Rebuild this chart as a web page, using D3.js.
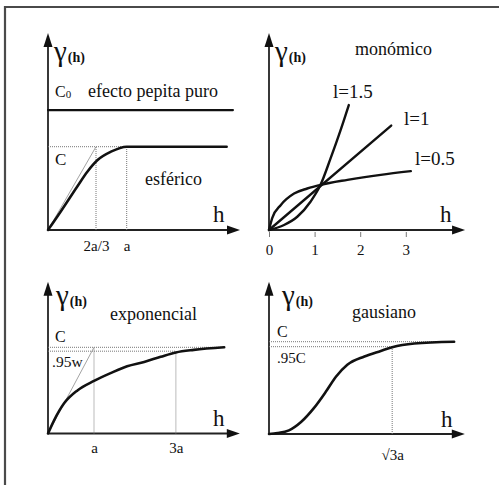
<!DOCTYPE html>
<html><head><meta charset="utf-8">
<script src="https://cdn.jsdelivr.net/npm/d3@7"></script>
<style>
html,body{margin:0;padding:0;background:#fff;}
svg{display:block;}
svg text{font-family:"Liberation Serif","Times New Roman",Times,"DejaVu Serif",serif;fill:#111;}
</style></head>
<body>
<svg id="c" width="499" height="485"></svg>
<script>
// ---- data (in model units: h in units of a, gamma in units of C) ----
const sphH = [0, 0.16, 0.37, 0.50, 0.63, 0.80, 1.0, 2.27];
const sphG = [0, 0.22, 0.52, 0.70, 0.84, 0.94, 1.0, 1.0];
const nugH = [0, 2.35];
const nugG = [1.44, 1.44];
const sphTicks = [0.61, 1];
const sphTickLabels = ["2a/3", "a"];

const m15H = [0, 0.33, 0.62, 0.91, 1.13, 1.35, 1.57, 1.75];
const m15G = [0, 0.11, 0.29, 0.62, 0.99, 1.57, 2.19, 2.74];
const m10H = [0, 2.68];
const m10G = [0, 2.29];
const m05H = [0, 0.07, 0.26, 0.55, 0.84, 1.13, 1.72, 2.45, 3.11];
const m05G = [0, 0.26, 0.55, 0.80, 0.91, 0.99, 1.10, 1.21, 1.29];
const monTicks = [0, 1, 2, 3];
const monLabels = ["l=1.5", "l=1", "l=0.5"];

const expH = [0, 0.13, 0.35, 0.64, 1.0, 1.36, 1.72, 2.09, 2.45, 2.78, 3.17, 3.83];
const expG = [0, 0.15, 0.35, 0.50, 0.61, 0.70, 0.78, 0.83, 0.89, 0.94, 0.97, 1.0];
const expTicks = [1, 2.78];
const expTickLabels = ["a", "3a"];

const gauH = [0, 0.12, 0.28, 0.45, 0.63, 0.80, 0.94, 1.10, 1.34, 1.57, 1.73, 2.04, 2.60];
const gauG = [0, 0.01, 0.04, 0.13, 0.28, 0.46, 0.62, 0.75, 0.84, 0.90, 0.94, 0.98, 1.0];
const gauTicks = [1.73];
const gauTickLabels = ["\u221A3a"];

const sill = 1, p95exp = 0.955, p95gau = 0.946;

// ---- drawing ----
const FONT = '"Liberation Serif","Times New Roman",Times,"DejaVu Serif",serif';
const svg = d3.select("#c");
svg.append("path").attr("d","M5,485V7H499").attr("fill","none").attr("stroke","#4a4a4a").attr("stroke-width",2.2);

const zip = (a,b)=>a.map((v,i)=>[v,b[i]]);

function panel(o){
  const x = d3.scaleLinear().domain([0,1]).range([o.x0, o.x0+o.ux]);
  const y = d3.scaleLinear().domain([0,1]).range([o.y0, o.y0-o.uy]);
  const g = svg.append("g");
  const line = d3.line().x(d=>x(d[0])).y(d=>y(d[1])).curve(d3.curveMonotoneX);
  const xt = x(o.xmax), yt = y(o.ymax);
  g.append("line").attr("x1",o.x0).attr("y1",o.y0).attr("x2",xt-10).attr("y2",o.y0)
    .attr("stroke","#222").attr("stroke-width",1.8);
  g.append("line").attr("x1",o.x0).attr("y1",o.y0).attr("x2",o.x0).attr("y2",yt+10)
    .attr("stroke","#222").attr("stroke-width",1.8);
  g.append("path").attr("d",`M${xt},${o.y0}L${xt-13},${o.y0-4.5}L${xt-13},${o.y0+4.5}Z`).attr("fill","#111");
  g.append("path").attr("d",`M${o.x0},${yt}L${o.x0-4.5},${yt+14}L${o.x0+4.5},${yt+14}Z`).attr("fill","#111");
  return {g,x,y,line};
}
function dotted(p, pts){
  p.g.append("path").attr("d", d3.line().x(d=>p.x(d[0])).y(d=>p.y(d[1]))(pts))
    .attr("fill","none").attr("stroke","#777").attr("stroke-width",1).attr("stroke-dasharray","1,1");
}
function thin(p, pts){
  p.g.append("path").attr("d", d3.line().x(d=>p.x(d[0])).y(d=>p.y(d[1]))(pts))
    .attr("fill","none").attr("stroke","#999").attr("stroke-width",0.9);
}
function curve(p, data, w){
  p.g.append("path").attr("d", p.line(data)).attr("fill","none").attr("stroke","#111")
    .attr("stroke-width",w||2.6).attr("stroke-linecap","round").attr("stroke-linejoin","round");
}
function label(p, txt, x, y, size){
  return p.g.append("text").attr("x",x).attr("y",y).attr("font-size",size)
    .style("font-family",FONT).text(txt);
}
function gamma(p, x, y){
  const t = p.g.append("text").attr("x",x).attr("y",y).style("font-family",FONT);
  t.append("tspan").attr("font-size",29).text("\u03B3");
  t.append("tspan").attr("font-size",14).attr("font-weight","bold").attr("dx",1).attr("dy",1).text("(h)");
}
function ticks(p, vals, labs, size, pad, yAxis){
  const ax = d3.axisBottom(p.x).tickValues(vals).tickSize(size).tickPadding(pad)
    .tickFormat((d,i)=>labs[i]);
  const a = p.g.append("g").attr("transform",`translate(0,${yAxis})`).call(ax);
  a.attr("font-family",null).attr("font-size",null);
  a.select(".domain").remove();
  a.selectAll("line").attr("stroke","#555").attr("stroke-width",0.8).attr("transform","translate(0,2)");
  a.selectAll("text").style("font-family",FONT).style("font-size","15px").attr("fill","#111");
}

// Panel 1: nugget + spherical
const p1 = panel({x0:48, y0:230, ux:78.7, uy:83.3, xmax:2.44, ymax:2.365});
dotted(p1, [[0,sill],[1,sill]]);
dotted(p1, [[sphTicks[0],0],[sphTicks[0],sill]]);
dotted(p1, [[sphTicks[1],0],[sphTicks[1],sill]]);
thin(p1, [[0,0],[sphTicks[0],sill]]);
curve(p1, zip(nugH,nugG), 2.2);
curve(p1, zip(sphH,sphG));
gamma(p1, 54, 61);
const c0 = p1.g.append("text").attr("x",55).attr("y",97).style("font-family",FONT);
c0.append("tspan").attr("font-size",16).text("C");
c0.append("tspan").attr("font-size",11).attr("dy",1).text("0");
label(p1, "efecto pepita puro", 88, 97, 18);
label(p1, "C", 55, 165, 17);
label(p1, "esférico", 145, 185, 18);
label(p1, "h", 213, 222, 23);
ticks(p1, sphTicks, sphTickLabels, 0, 10, 230);

// Panel 2: monomial
const p2 = panel({x0:269, y0:230, ux:45.6, uy:45.6, xmax:4.3, ymax:4.32});
curve(p2, zip(m15H,m15G), 2.4);
curve(p2, zip(m10H,m10G), 2.4);
curve(p2, zip(m05H,m05G), 2.4);
gamma(p2, 275, 61);
label(p2, "monómico", 355, 55, 18);
label(p2, monLabels[0], 333, 98, 19);
label(p2, monLabels[1], 404, 125, 19);
label(p2, monLabels[2], 415, 165, 19);
label(p2, "h", 440, 222, 23);
ticks(p2, monTicks, monTicks.map(String), 5, 9, 230);

// Panel 3: exponential
const p3 = panel({x0:48, y0:433.5, ux:46, uy:86.2, xmax:4.17, ymax:1.76});
dotted(p3, [[0,sill],[expH[expH.length-1],sill]]);
dotted(p3, [[0,p95exp],[expTicks[1],p95exp]]);
dotted(p3, [[expTicks[0],0],[expTicks[0],sill]]);
dotted(p3, [[expTicks[1],0],[expTicks[1],p95exp]]);
thin(p3, [[0,0],[1,sill]]);
curve(p3, zip(expH,expG));
gamma(p3, 56, 305);
label(p3, "exponencial", 110, 320, 18);
label(p3, "C", 55, 342, 16);
label(p3, ".95w", 52, 367, 15.5);
label(p3, "h", 213, 426, 23);
ticks(p3, expTicks, expTickLabels, 0, 9, 433.5);

// Panel 4: gaussian
const p4 = panel({x0:269, y0:434, ux:71.2, uy:92.3, xmax:2.75, ymax:1.65});
dotted(p4, [[0,sill],[gauH[gauH.length-1],sill]]);
dotted(p4, [[0,p95gau],[gauTicks[0],p95gau]]);
dotted(p4, [[gauTicks[0],0],[gauTicks[0],p95gau]]);
curve(p4, zip(gauH,gauG));
gamma(p4, 282, 305);
label(p4, "gausiano", 352, 318, 18);
label(p4, "C", 277, 337, 16);
label(p4, ".95C", 277, 363, 15);
label(p4, "h", 441, 427, 23);
ticks(p4, gauTicks, gauTickLabels, 0, 15, 434);
</script>
</body></html>
